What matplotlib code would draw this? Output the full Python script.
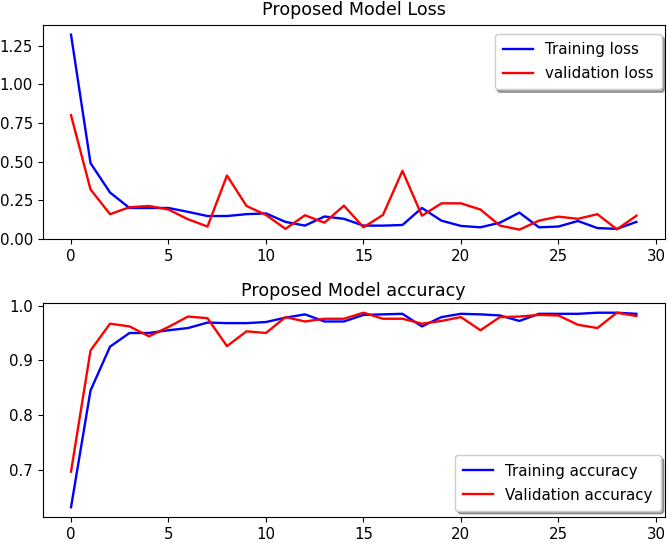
import numpy as np
import matplotlib
matplotlib.use("Agg")
from matplotlib import pyplot as plt
from matplotlib.ticker import MultipleLocator

epochs = np.arange(30)

train_loss = [1.32, 0.49, 0.30, 0.20, 0.20, 0.20, 0.175, 0.148, 0.148, 0.16,
              0.165, 0.11, 0.086, 0.145, 0.13, 0.086, 0.086, 0.09, 0.20, 0.118,
              0.084, 0.075, 0.105, 0.17, 0.075, 0.08, 0.116, 0.07, 0.065, 0.11]
val_loss = [0.80, 0.32, 0.16, 0.205, 0.213, 0.19, 0.127, 0.08, 0.41, 0.213,
            0.155, 0.065, 0.153, 0.105, 0.215, 0.075, 0.155, 0.44, 0.15, 0.23,
            0.23, 0.19, 0.086, 0.06, 0.118, 0.144, 0.13, 0.16, 0.062, 0.15]

train_acc = [0.632, 0.845, 0.925, 0.95, 0.95, 0.955, 0.959, 0.969, 0.968, 0.968,
             0.97, 0.978, 0.984, 0.971, 0.971, 0.983, 0.984, 0.985, 0.962, 0.979,
             0.985, 0.984, 0.982, 0.972, 0.985, 0.985, 0.985, 0.987, 0.987, 0.985]
val_acc = [0.697, 0.918, 0.967, 0.962, 0.944, 0.961, 0.98, 0.977, 0.926, 0.953,
           0.95, 0.979, 0.971, 0.976, 0.976, 0.987, 0.976, 0.976, 0.967, 0.972,
           0.979, 0.955, 0.979, 0.98, 0.983, 0.982, 0.965, 0.959, 0.987, 0.981]

plt.rcParams['font.size'] = 10.8
plt.rcParams['lines.linewidth'] = 1.7

fig = plt.figure(figsize=(6.68, 5.43), dpi=100)

# loss plot
ax1 = fig.add_axes([0.064, 0.560, 0.931, 0.394])
ax1.plot(epochs, train_loss, 'b', label='Training loss')
ax1.plot(epochs, val_loss, 'r', label='validation loss')
ax1.set_ylim(bottom=0)
ax1.yaxis.set_major_locator(MultipleLocator(0.25))
ax1.set_title('Proposed Model Loss', fontsize=12.6, pad=7)
ax1.legend(loc='upper right', bbox_to_anchor=(0.995, 0.958), borderaxespad=0,
           shadow=True, fontsize=10.8, labelspacing=0.6, borderpad=0.55)

# accuracy plot
ax2 = fig.add_axes([0.064, 0.048, 0.931, 0.394])
ax2.plot(epochs, train_acc, 'b', label='Training accuracy')
ax2.plot(epochs, val_acc, 'r', label='Validation accuracy')
ax2.set_title('Proposed Model accuracy', fontsize=12.6, pad=5)
ax2.legend(loc='lower right', bbox_to_anchor=(0.994, 0.028), borderaxespad=0,
           shadow=True, fontsize=10.8, labelspacing=0.6, borderpad=0.55)

fig.savefig('out.png', dpi=100)
